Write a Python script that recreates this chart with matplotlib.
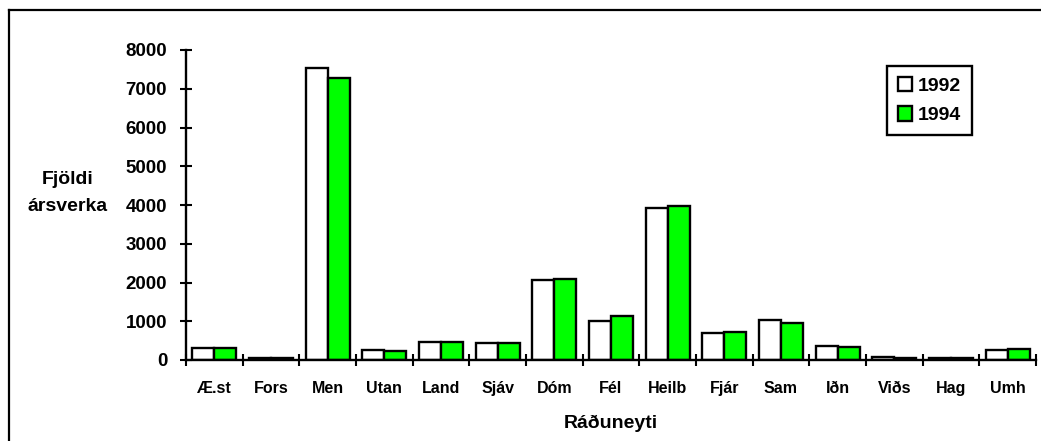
import numpy as np
import matplotlib
matplotlib.use("Agg")
import matplotlib.pyplot as plt
from matplotlib.patches import Patch
from matplotlib.lines import Line2D

# ráðuneyti (ministries) and staff counts
categories = ["Æ.st", "Fors", "Men", "Utan", "Land", "Sjáv", "Dóm", "Fél",
              "Heilb", "Fjár", "Sam", "Iðn", "Viðs", "Hag", "Umh"]
vals_1992 = [300, 50, 7530, 250, 460, 430, 2070, 1000, 3920, 700, 1030, 370, 70, 50, 260]
vals_1994 = [300, 50, 7280, 230, 460, 430, 2090, 1135, 3970, 720, 950, 340, 60, 60, 280]
years = ["1992", "1994"]

plt.rcParams["font.family"] = ["Liberation Sans", "DejaVu Sans"]
plt.rcParams["font.weight"] = "bold"

W, H = 1041, 441
fig = plt.figure(figsize=(W / 100, H / 100), dpi=100)
ax = fig.add_axes([186 / W, 1 - 360 / H, (1036 - 186) / W, (360 - 50) / H])

GREEN = "#00FF00"
x = np.arange(len(categories))
bw = 0.39
ax.bar(x + 0.5 - bw / 2, vals_1992, bw, color="white", edgecolor="black", linewidth=1.7)
ax.bar(x + 0.5 + bw / 2, vals_1994, bw, color=GREEN, edgecolor="black", linewidth=1.7)

ax.set_xlim(0, len(categories))
ax.set_ylim(0, 8000)
ax.set_yticks(np.arange(0, 8001, 1000))
ax.set_xticks(np.arange(0, len(categories) + 1))
ax.set_xticklabels([])
ax.set_xticks(x + 0.5, minor=True)
ax.set_xticklabels(categories, minor=True, fontsize=11.5, fontweight="bold")
ax.tick_params(axis="x", which="major", direction="inout", length=8, width=1.5)
ax.tick_params(axis="x", which="minor", length=0, pad=15)
ax.tick_params(axis="y", direction="inout", length=9, width=1.5, pad=9,
               labelsize=13.5)
for lbl in ax.get_yticklabels():
    lbl.set_fontweight("bold")

for s in ("top", "right"):
    ax.spines[s].set_visible(False)
for s in ("left", "bottom"):
    ax.spines[s].set_linewidth(1.7)

ax.set_xlabel("Ráðuneyti", fontsize=14, fontweight="bold", labelpad=14)
fig.text(68 / W, 1 - 193 / H, "Fjöldi\nársverka", ha="center", va="center",
         fontsize=14, fontweight="bold", linespacing=1.75)

handles = [Patch(facecolor="white", edgecolor="black", linewidth=1.7),
           Patch(facecolor=GREEN, edgecolor="black", linewidth=1.7)]
leg = fig.legend(handles, years, loc="upper left",
                 bbox_to_anchor=(887 / W, 1 - 66 / H), fontsize=14,
                 fancybox=False, edgecolor="black", framealpha=1,
                 handlelength=0.75, handleheight=0.75, handletextpad=0.3,
                 borderpad=0.55, labelspacing=0.6, borderaxespad=0)
leg.get_frame().set_linewidth(1.7)
for t in leg.get_texts():
    t.set_fontweight("bold")

# outer chart frame
fig.add_artist(Line2D([9 / W, 9 / W], [0, 1 - 10 / H], transform=fig.transFigure,
                      color="black", linewidth=1.6))
fig.add_artist(Line2D([9 / W, 1.0], [1 - 10 / H, 1 - 10 / H], transform=fig.transFigure,
                      color="black", linewidth=1.6))

fig.savefig("out.png", dpi=100, facecolor="white")
